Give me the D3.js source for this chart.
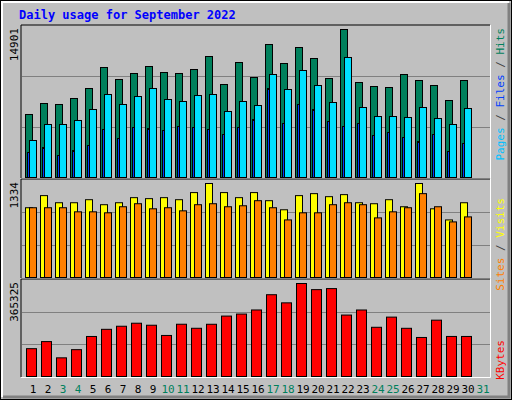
<!DOCTYPE html>
<html>
<head>
<meta charset="utf-8">
<script src="https://cdn.jsdelivr.net/npm/d3@7"></script>
<style>
  body { margin: 0; background: #fff; }
  text { font-family: "DejaVu Sans Mono", monospace; }
</style>
</head>
<body>
<svg id="chart" width="512" height="400"></svg>
<script>
const days = d3.range(1, 32);
const weekend = [3, 4, 10, 11, 17, 18, 24, 25, 31];

const hits = [6343, 7450, 7350, 7954, 8961, 11075, 9867, 10471, 11175, 10571, 10471, 10873, 12182, 9363, 11578,
  10068, 13390, 11477, 13088, 11981, 9967, 14901, 9565, 9162, 9061, 10370, 9766, 9263, 7752, 9766];
const files = [3725, 5336, 5336, 5739, 6846, 8356, 7350, 8155, 8961, 7853, 7652, 8256, 8356, 6645, 7652,
  7249, 10370, 8860, 10773, 9263, 7551, 12082, 7048, 6141, 6141, 6041, 7048, 5940, 5336, 6947];
const pages = [2517, 3020, 2215, 2718, 3222, 4833, 3927, 5034, 4933, 4732, 5135, 5034, 4833, 4329, 5034,
  5839, 8960, 5437, 7350, 6846, 5638, 5135, 5437, 4229, 4531, 4027, 3624, 4329, 2618, 3423];
const visits = [990, 1162, 1061, 1061, 1104, 1033, 1061, 1133, 1119, 1133, 1104, 1205, 1334, 1205, 1133,
  1205, 1090, 961, 1162, 1190, 1147, 1176, 1061, 1047, 1104, 1004, 1334, 975, 817, 1061];
const sites = [990, 990, 990, 932, 932, 918, 1004, 1047, 975, 990, 946, 1033, 1047, 1004, 1018,
  1090, 990, 817, 918, 918, 1033, 1061, 1033, 846, 932, 990, 1190, 1004, 789, 860];
const kbytes = [109330, 137120, 73310, 105420, 157250, 185330, 197410, 209280, 201360, 161240, 205310, 189420, 205180, 237330, 245290,
  261330, 321270, 289310, 365325, 341260, 345310, 241350, 261240, 193330, 233280, 189310, 153330, 221270, 157340, 157290];

const svg = d3.select('#chart');

// frame and bevel
svg.append('rect').attr('x', 0).attr('y', 0).attr('width', 512).attr('height', 400).attr('fill', '#c0c0c0');
svg.append('rect').attr('x', 0.5).attr('y', 0.5).attr('width', 511).attr('height', 399).attr('fill', 'none').attr('stroke', 'black');
svg.append('path').attr('d', 'M2,397V2H509').attr('fill', 'none').attr('stroke', 'white').attr('stroke-width', 2);
svg.append('path').attr('d', 'M3,397H509V3').attr('fill', 'none').attr('stroke', '#808080').attr('stroke-width', 3);

svg.append('text').attr('x', 19).attr('y', 19).attr('fill', '#0000ff')
  .attr('font-size', 12).attr('font-weight', 'bold').text('Daily usage for September 2022');

const x = d3.scaleLinear().domain([1, 31]).range([25, 475]);

const panels = [
  { top: 26, base: 177, max: 14901, label: '14901' },
  { top: 180, base: 277, max: 1334, label: '1334' },
  { top: 280, base: 376, max: 365325, label: '365325' }
];

panels.forEach(p => {
  svg.append('path').attr('d', `M21,${p.base + 1}V${p.top - 1}H490`).attr('fill', 'none').attr('stroke', 'black');
  svg.append('path').attr('d', `M21,${p.base + 1.5}H490.5V${p.top - 1}`).attr('fill', 'none').attr('stroke', 'white');
  const h = p.base - p.top;
  [1, 2].forEach(k => {
    const gy = Math.round(p.base - h * k / 3) + 0.5;
    svg.append('line').attr('x1', 22).attr('x2', 490).attr('y1', gy).attr('y2', gy).attr('stroke', '#808080');
  });
  svg.append('text').attr('transform', `translate(18,${p.top + 2}) rotate(-90)`)
    .attr('text-anchor', 'end').attr('font-size', 11).attr('font-family', 'DejaVu Sans')
    .attr('fill', 'black').text(p.label);
  p.y = d3.scaleLinear().domain([0, p.max]).range([p.base, p.top + 3]);
});

function bars(data, panel, dx, w, color) {
  svg.append('g').selectAll('rect').data(data).join('rect')
    .attr('x', (d, i) => x(i + 1) + dx + 0.5)
    .attr('y', d => panel.y(d) + 0.5)
    .attr('width', w)
    .attr('height', d => panel.base - panel.y(d))
    .attr('fill', color).attr('stroke', 'black');
}

bars(hits, panels[0], 0, 7, '#00805c');
bars(pages, panels[0], 2, 2, '#0040ff');
bars(files, panels[0], 4, 7, '#00e0ff');
bars(visits, panels[1], 0, 7, '#ffff00');
bars(sites, panels[1], 4, 7, '#ff8000');
bars(kbytes, panels[2], 1, 10, '#ff0000');

// day labels
svg.append('g').selectAll('text').data(days).join('text')
  .attr('x', d => x(d) + 8).attr('y', 393)
  .attr('text-anchor', 'middle').attr('font-size', 11).attr('font-family', 'DejaVu Sans')
  .attr('fill', d => weekend.includes(d) ? '#00805c' : 'black')
  .text(d => d);

// right side legends
function legend(parts, yEnd) {
  const t = svg.append('text').attr('transform', `translate(504,${yEnd}) rotate(-90)`)
    .attr('text-anchor', 'end').attr('font-size', 11);
  parts.forEach(([s, c]) => t.append('tspan').attr('fill', c).text(s));
}
legend([['Pages', '#00c0ff'], [' / ', '#404040'], ['Files', '#0040ff'], [' / ', '#404040'], ['Hits', '#00805c']], 28);
legend([['Sites', '#ff8000'], [' / ', '#404040'], ['Visits', '#ffff00']], 198);
legend([['KBytes', '#ff0000']], 340);
</script>
</body>
</html>
